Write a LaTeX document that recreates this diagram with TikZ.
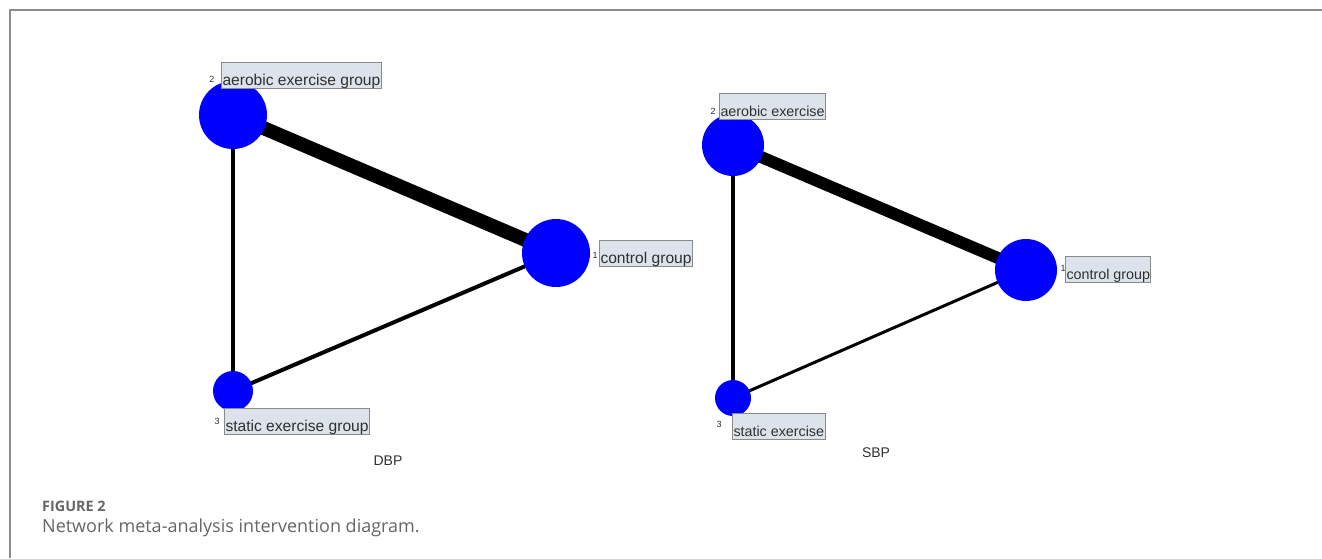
\documentclass[tikz,border=0pt]{standalone}
\usepackage{fontspec}
\setmainfont{Liberation Sans}
\newfontfamily\capfont{Open Sans}
\usetikzlibrary{backgrounds}
\definecolor{nodeblue}{HTML}{0000FF}
\definecolor{boxfill}{HTML}{DCE3EA}
\definecolor{boxline}{HTML}{8A8A8A}
\definecolor{labtext}{HTML}{303030}
\definecolor{framegray}{HTML}{8C8C8C}
\definecolor{capgray}{HTML}{666666}
\tikzset{
  trt/.style={circle, fill=nodeblue, draw=none, inner sep=0pt, minimum size=#1},
  edge/.style={line width=#1, black},
  labbox/.style={draw=boxline, fill=boxfill, line width=1pt, anchor=south west,
    inner xsep=1pt, inner ysep=0.5pt, text height=22pt, text depth=3pt,
    text=labtext, font=\fontsize{#1}{#1}\selectfont},
  num/.style={anchor=base, inner sep=0pt, text=labtext, font=\fontsize{9}{9}\selectfont},
  panel/.style={anchor=center, inner sep=0pt, text=labtext, font=\fontsize{14}{14}\selectfont},
}
\begin{document}
\begin{tikzpicture}[x=1pt, y=-1pt]
\useasboundingbox (0,0) rectangle (1322,558);
\begin{scope}[on background layer]
\fill[white] (0,0) rectangle (1322,558);
\end{scope}
% frame
\draw[framegray, line width=2pt] (10,558) -- (10,10) -- (1322,10);

% ---------- DBP network ----------
\node[trt=68] (d2) at (233,115) {};
\node[trt=68] (d1) at (556,253) {};
\node[trt=40] (d3) at (233,391) {};
\begin{scope}[on background layer]
\draw[edge=14] (d2.center) -- (d1.center);
\draw[edge=4.5] (d2.center) -- (d3.center);
\draw[edge=4] (d3.center) -- (d1.center);
\end{scope}
\node[labbox=15.6] (ld2) at (221,89) {aerobic exercise group};
\node[labbox=15.6] (ld1) at (599,267) {control group};
\node[labbox=15.6] (ld3) at (224,435) {static exercise group};
\node[num] (nd2) at (212,82) {2};
\node[num] (nd1) at (595,258) {1};
\node[num] (nd3) at (217,424) {3};
\node[panel] (dbp) at (388,461) {DBP};

% ---------- SBP network ----------
\node[trt=62] (s2) at (733,145) {};
\node[trt=62] (s1) at (1026,270) {};
\node[trt=36] (s3) at (733,398) {};
\begin{scope}[on background layer]
\draw[edge=12] (s2.center) -- (s1.center);
\draw[edge=4] (s2.center) -- (s3.center);
\draw[edge=3] (s3.center) -- (s1.center);
\end{scope}
\node[labbox=14.3] (ls2) at (719,120) {aerobic exercise};
\node[labbox=14.3] (ls1) at (1065,283) {control group};
\node[labbox=14.3] (ls3) at (732,440) {static exercise};
\node[num] (ns2) at (713,114) {2};
\node[num] (ns1) at (1063,271) {1};
\node[num] (ns3) at (719,427) {3};
\node[panel] (sbp) at (876,453) {SBP};

% ---------- caption ----------
\node[anchor=base west, inner sep=0pt, text=capgray, font=\capfont\fontsize{14.4}{14.4}\selectfont\bfseries] (figno) at (42,511) {FIGURE 2};
\node[anchor=base west, inner sep=0pt, text=capgray, font=\capfont\fontsize{18}{18}\selectfont] (caption) at (42,532) {Network meta-analysis intervention diagram.};
\end{tikzpicture}
\end{document}
